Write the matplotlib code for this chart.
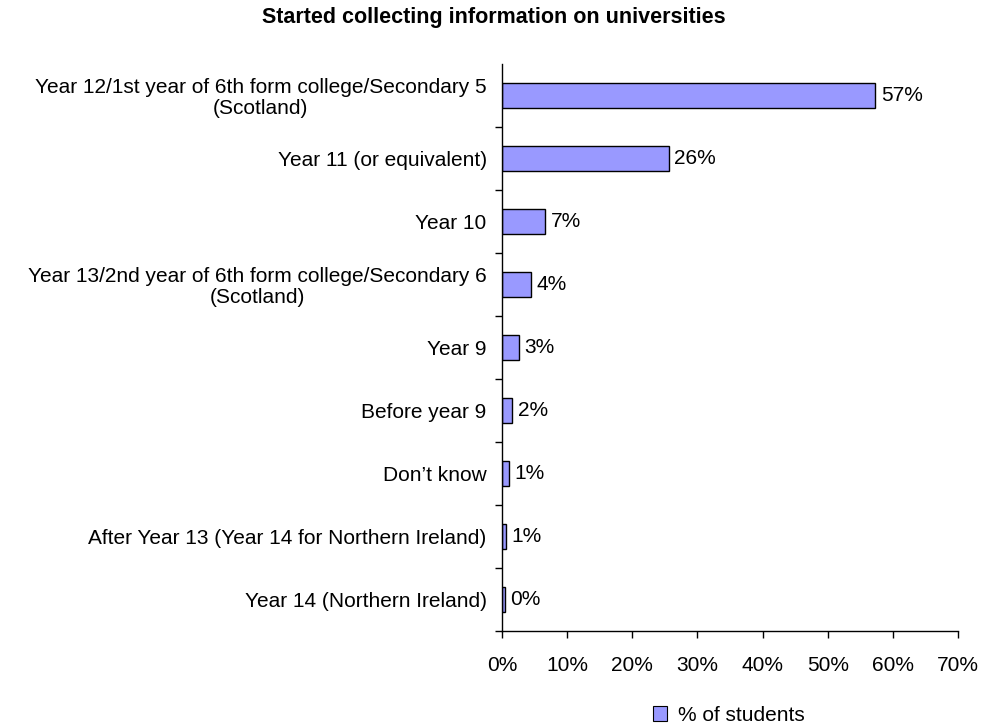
import matplotlib
matplotlib.use("Agg")
import matplotlib.pyplot as plt
from matplotlib.patches import Patch
from matplotlib.ticker import FuncFormatter

plt.rcParams['font.family'] = ['Liberation Sans', 'DejaVu Sans']

title = "Started collecting information on universities"
categories = [
    "Year 12/1st year of 6th form college/Secondary 5\n(Scotland)",
    "Year 11 (or equivalent)",
    "Year 10",
    "Year 13/2nd year of 6th form college/Secondary 6\n(Scotland)",
    "Year 9",
    "Before year 9",
    "Don\u2019t know",
    "After Year 13 (Year 14 for Northern Ireland)",
    "Year 14 (Northern Ireland)",
]
values = [57.3, 25.6, 6.6, 4.4, 2.6, 1.6, 1.1, 0.6, 0.4]
series_name = "% of students"
x_ticks = [0, 10, 20, 30, 40, 50, 60, 70]

FS = 15

fig = plt.figure(figsize=(9.82, 7.24), dpi=100)
ax = fig.add_axes([0.5112, 0.1285, 0.4644, 0.7831])

y = list(range(len(categories)))
ax.barh(y, values, height=0.41, color="#9999FF", edgecolor="black", linewidth=1.0)

for yi, v in zip(y, values):
    ax.text(v + 0.85, yi, f"{v:.0f}%", va="center", ha="left", fontsize=FS)

ax.set_ylim(len(categories) - 0.5, -0.5)
ax.set_xlim(0, 70)
ax.set_xticks(x_ticks)
ax.xaxis.set_major_formatter(FuncFormatter(lambda v, p: f"{v:.0f}%"))
ax.set_yticks([i + 0.5 for i in range(len(categories))])
ax.set_yticklabels([])
ax.set_yticks(y, minor=True)
ax.set_yticklabels(categories, minor=True, fontsize=FS, multialignment="center",
                   linespacing=1.1)
ax.tick_params(axis="y", which="minor", length=0, pad=11)
ax.tick_params(axis="y", which="major", length=5, width=1, direction="out")
ax.tick_params(axis="x", length=5, width=1, direction="out", labelsize=FS, pad=13)

for s in ["top", "right"]:
    ax.spines[s].set_visible(False)
ax.spines["left"].set_linewidth(1)
ax.spines["bottom"].set_linewidth(1)

fig.text(0.503, 0.9765, title, ha="center", va="center", fontsize=15.5, fontweight="bold")

handle = Patch(facecolor="#9999FF", edgecolor="black", linewidth=0.8)
fig.legend([handle], [series_name], loc="center", bbox_to_anchor=(0.742, 0.0124),
           frameon=False, fontsize=FS, handlelength=0.7, handleheight=0.7,
           handletextpad=0.5, borderpad=0.2)

fig.savefig("out.png", dpi=100)
